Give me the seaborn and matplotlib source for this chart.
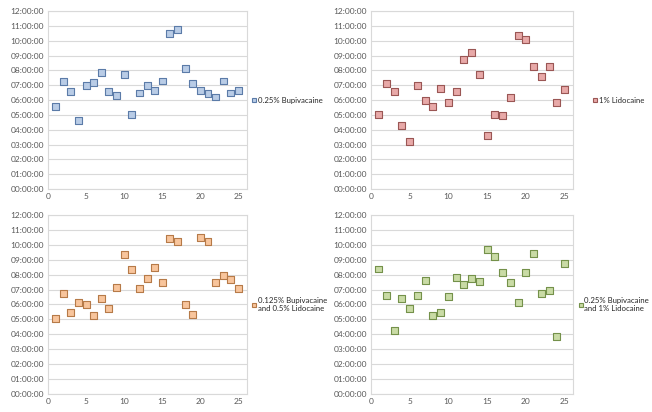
import numpy as np
import pandas as pd
import seaborn as sns
import matplotlib.pyplot as plt
from matplotlib.ticker import FuncFormatter, MultipleLocator

# patient number 1..25, duration in hours
patients = list(range(1, 26))

bupi_025 = [5.56, 7.25, 6.57, 4.60, 6.98, 7.16, 7.87, 6.57, 6.30, 7.74,
            5.05, 6.48, 7.00, 6.68, 7.29, 10.50, 10.74, 8.12, 7.11, 6.64,
            6.42, 6.21, 7.29, 6.48, 6.68]
lido_1 = [5.05, 7.11, 6.57, 4.26, 3.23, 7.00, 5.97, 5.56, 6.80, 5.81,
          6.57, 8.75, 9.22, 7.72, 3.61, 5.02, 4.96, 6.17, 10.34, 10.09,
          8.25, 7.58, 8.25, 5.83, 6.73]
bupi_0125_lido_05 = [5.06, 6.74, 5.46, 6.13, 6.02, 5.26, 6.42, 5.76, 7.14, 9.36,
                     8.33, 7.10, 7.72, 8.48, 7.48, 10.43, 10.25, 6.02, 5.31, 10.48,
                     10.23, 7.48, 7.97, 7.66, 7.05]
bupi_025_lido_1 = [8.38, 6.61, 4.27, 6.40, 5.73, 6.58, 7.60, 5.26, 5.48, 6.52,
                   7.78, 7.37, 7.75, 7.53, 9.71, 9.19, 8.16, 7.46, 6.16, 8.16,
                   9.39, 6.72, 6.92, 3.82, 8.74]

series = [
    ("0.25% Bupivacaine", bupi_025, "#B9CCE6", "#5B7BA8"),
    ("1% Lidocaine", lido_1, "#E8A9A8", "#9A5654"),
    ("0.125% Bupivacaine\nand 0.5% Lidocaine", bupi_0125_lido_05, "#F8C59C", "#B67A48"),
    ("0.25% Bupivacaine\nand 1% Lidocaine", bupi_025_lido_1, "#C9DBA5", "#74914A"),
]

sns.set_style("white")
plt.rcParams['font.family'] = ['Lato', 'DejaVu Sans']

fig = plt.figure(figsize=(6.52, 4.12), dpi=100)
positions = [
    [0.0736, 0.541, 0.305, 0.432],
    [0.569, 0.541, 0.310, 0.432],
    [0.0736, 0.044, 0.305, 0.434],
    [0.569, 0.044, 0.310, 0.434],
]
legend_x = [1.01, 1.08, 1.01, 1.01]

fmt = FuncFormatter(lambda v, p: "%02d:00:00" % int(round(v)))

for (label, vals, fill, edge), pos, lx in zip(series, positions, legend_x):
    ax = fig.add_axes(pos)
    df = pd.DataFrame({"patient": patients, "hours": vals, "group": label})
    sns.scatterplot(data=df, x="patient", y="hours", hue="group", palette=[fill],
                    marker="s", s=25, edgecolor=edge, linewidth=0.8, ax=ax, zorder=3)
    ax.set_xlim(0, 26.1)
    ax.set_ylim(0, 12)
    ax.xaxis.set_major_locator(MultipleLocator(5))
    ax.yaxis.set_major_locator(MultipleLocator(1))
    ax.yaxis.set_major_formatter(fmt)
    ax.grid(axis="y", color="#D9D9D9", linewidth=0.8)
    ax.set_axisbelow(True)
    for sp in ax.spines.values():
        sp.set_color("#D9D9D9")
        sp.set_linewidth(0.8)
    ax.tick_params(length=0, labelsize=6, labelcolor="#595959", pad=3)
    ax.set_xlabel("")
    ax.set_ylabel("")
    ax.legend(loc="center left", bbox_to_anchor=(lx, 0.5), frameon=False,
              fontsize=5.6, handletextpad=0.0, borderaxespad=0.0, handlelength=1.0,
              markerscale=0.7, borderpad=0.2)

fig.savefig("out.png", dpi=100)
